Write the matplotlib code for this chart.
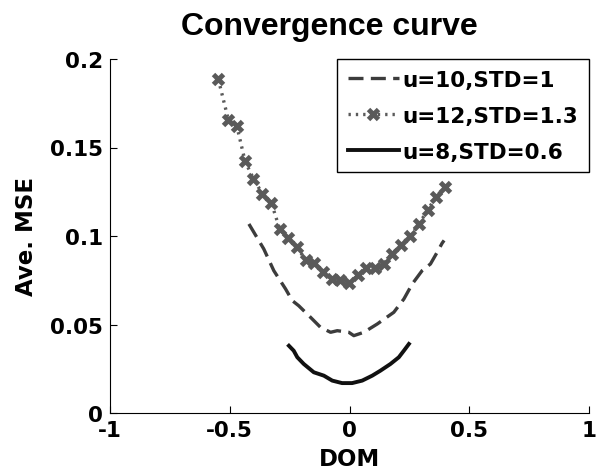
import matplotlib
matplotlib.use("Agg")
import matplotlib.pyplot as plt

# ---- data ----
x_u10 = [-0.420, -0.358, -0.316, -0.267, -0.239, -0.212, -0.163, -0.121, -0.079, -0.051,
         -0.003, 0.018, 0.060, 0.116, 0.185, 0.227, 0.262, 0.303, 0.338, 0.366, 0.387, 0.395]
y_u10 = [0.1068, 0.0927, 0.0804, 0.0701, 0.0635, 0.0606, 0.0541, 0.0484, 0.0456, 0.0465,
         0.0456, 0.0437, 0.0456, 0.0503, 0.0569, 0.0644, 0.0729, 0.0804, 0.0842, 0.0908, 0.0960, 0.0975]

x_u12 = [-0.548, -0.506, -0.470, -0.436, -0.401, -0.364, -0.326, -0.291, -0.257, -0.220,
         -0.182, -0.147, -0.110, -0.073, -0.038, -0.002, 0.035, 0.070, 0.105, 0.142,
         0.177, 0.214, 0.252, 0.289, 0.326, 0.361, 0.398]
y_u12 = [0.1887, 0.1658, 0.1619, 0.1422, 0.1324, 0.1239, 0.1187, 0.1037, 0.0986, 0.0937,
         0.0864, 0.0849, 0.0798, 0.0755, 0.0751, 0.0732, 0.0779, 0.0821, 0.0817, 0.0841,
         0.0900, 0.0948, 0.1001, 0.1065, 0.1146, 0.1221, 0.1277]

x_u8 = [-0.253, -0.233, -0.218, -0.191, -0.149, -0.107, -0.072, -0.031, 0.011, 0.053,
        0.095, 0.129, 0.171, 0.206, 0.227, 0.248]
y_u8 = [0.0380, 0.0352, 0.0315, 0.0277, 0.0230, 0.0211, 0.0183, 0.0169, 0.0169, 0.0183,
        0.0211, 0.0239, 0.0277, 0.0315, 0.0352, 0.0390]

labels = ["u=10,STD=1", "u=12,STD=1.3", "u=8,STD=0.6"]
x_ticks = [-1, -0.5, 0, 0.5, 1]
x_ticklabels = ["-1", "-0.5", "0", "0.5", "1"]
y_ticks = [0, 0.05, 0.1, 0.15, 0.2]
y_ticklabels = ["0", "0.05", "0.1", "0.15", "0.2"]

plt.rcParams['font.family'] = ['DejaVu Sans']
plt.rcParams['font.weight'] = 'bold'

fig = plt.figure(figsize=(5.98, 4.77), dpi=100)
ax = fig.add_axes([110/598, 1 - 414/477, 479/598, 354/477])

ax.plot(x_u10, y_u10, linestyle=(0, (4.5, 2.2)), color='#3c3c3c', lw=2.4, label=labels[0])
ax.plot(x_u12, y_u12, linestyle=(0, (0.7, 1.5)), color='#5a5a5a', lw=2.4,
        marker='x', markersize=7.5, markeredgewidth=3.5, label=labels[1])
ax.plot(x_u8, y_u8, linestyle='-', color='#111111', lw=2.8, label=labels[2])

ax.set_xlim(-1, 1)
ax.set_ylim(0, 0.2)
ax.set_xticks(x_ticks)
ax.set_xticklabels(x_ticklabels)
ax.set_yticks(y_ticks)
ax.set_yticklabels(y_ticklabels)
ax.tick_params(direction='in', length=5, width=0.8, labelsize=15.5, pad=5, colors='black')
for s in ['top', 'right']:
    ax.spines[s].set_visible(False)
for s in ['left', 'bottom']:
    ax.spines[s].set_linewidth(0.8)

ax.set_xlabel("DOM", fontsize=16.5, fontweight='bold', labelpad=5)
ax.set_ylabel("Ave. MSE", fontsize=16.5, fontweight='bold', labelpad=9)
ax.set_title("Convergence curve", fontsize=23, fontweight='bold', x=0.459, pad=18,
             family=['Liberation Sans', 'DejaVu Sans'])

leg = ax.legend(loc='upper right', bbox_to_anchor=(1.0, 1.0), borderaxespad=0,
                fontsize=15.5, handlelength=2.4, handletextpad=0.15, numpoints=1,
                fancybox=False, edgecolor='black', framealpha=1, labelspacing=0.74,
                borderpad=0.5)
leg.get_frame().set_linewidth(1.0)

fig.savefig("out.png", dpi=100)
